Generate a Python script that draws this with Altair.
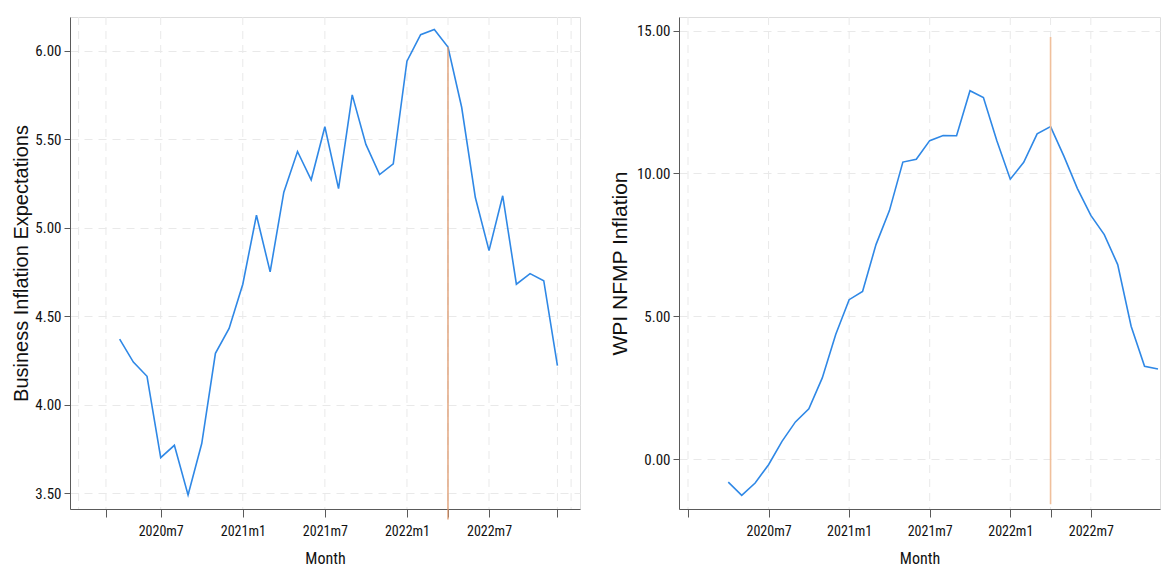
import altair as alt
import pandas as pd

# ---- data ----
months = ["2020m4", "2020m5", "2020m6", "2020m7", "2020m8", "2020m9", "2020m10", "2020m11", "2020m12",
          "2021m1", "2021m2", "2021m3", "2021m4", "2021m5", "2021m6", "2021m7", "2021m8", "2021m9",
          "2021m10", "2021m11", "2021m12", "2022m1", "2022m2", "2022m3", "2022m4", "2022m5", "2022m6",
          "2022m7", "2022m8", "2022m9", "2022m10", "2022m11", "2022m12"]
business_exp = [4.37, 4.24, 4.16, 3.70, 3.77, 3.49, 3.78, 4.29, 4.43,
                4.68, 5.07, 4.75, 5.20, 5.43, 5.27, 5.57, 5.22, 5.75,
                5.47, 5.30, 5.36, 5.94, 6.09, 6.12, 6.02, 5.68, 5.17,
                4.87, 5.18, 4.68, 4.74, 4.70, 4.22]
wpi_nfmp = [-0.81, -1.27, -0.84, -0.20, 0.62, 1.30, 1.76, 2.84, 4.36,
            5.58, 5.87, 7.51, 8.70, 10.40, 10.50, 11.15, 11.33, 11.32,
            12.90, 12.66, 11.15, 9.80, 10.39, 11.39, 11.64, 10.60, 9.47,
            8.53, 7.86, 6.81, 4.65, 3.25, 3.15]

labeled_months = ["2020m7", "2021m1", "2021m7", "2022m1", "2022m7"]
left_tick_months = ["2020m3", "2020m7", "2021m1", "2021m7", "2022m1", "2022m4", "2022m7", "2022m12"]
left_grid_months = ["2020m1", "2020m3", "2020m7", "2021m1", "2021m7", "2022m1", "2022m4", "2022m7",
                    "2022m12", "2023m1"]
right_tick_months = ["2020m1", "2020m7", "2021m1", "2021m7", "2022m1", "2022m4", "2022m7"]
right_grid_months = ["2020m1", "2020m7", "2021m1", "2021m7", "2022m1", "2022m4", "2022m7"]

left_yticks = [3.5, 4.0, 4.5, 5.0, 5.5, 6.0]
right_yticks = [0, 5, 10, 15]

vline_month = "2022m4"
left_vline = [3.35, 6.02]
right_vline = [-1.58, 14.78]


def midx(s):
    y, m = s.split("m")
    return (int(y) - 2020) * 12 + int(m) - 1


LINE_COLOR = "#2f88e6"
GRID_COLOR = "#e9e9e9"
AXIS_COLOR = "#5a5a5a"
NARROW = "Roboto Condensed, Liberation Sans, sans-serif"
REGULAR = "Liberation Sans, Arial, sans-serif"

label_idx = [midx(m) for m in labeled_months]
label_expr = ("indexof(%s, datum.value) >= 0 ? (floor(datum.value / 12) + 2020) + 'm' + "
              "(datum.value %% 12 + 1) : ''") % str(label_idx)


def panel(values, ytitle, ydomain, yticks, tick_months, grid_months, vrange, width, xdomain,
          vcolor, vwidth, tsize, tpad):
    df = pd.DataFrame({"t": [midx(m) for m in months], "v": values})
    gdf = pd.DataFrame({"t": [midx(m) for m in grid_months]})
    vdf = pd.DataFrame({"t": [midx(vline_month)], "lo": [vrange[0]], "hi": [vrange[1]]})

    xaxis = alt.Axis(values=[midx(m) for m in tick_months], labelExpr=label_expr, grid=False,
                     tickSize=8, tickColor=AXIS_COLOR, domainColor=AXIS_COLOR, labelPadding=7,
                     labelFont=NARROW, labelFontSize=14, labelColor="#111", titleFont=NARROW,
                     titleFontSize=16, titleColor="#111", titleFontWeight="normal", titlePadding=12,
                     labelFlush=False, labelOverlap=False)
    yaxis = alt.Axis(values=yticks, format=".2f", grid=True, gridColor=GRID_COLOR, gridDash=[8, 6],
                     tickSize=6, tickColor=AXIS_COLOR, domainColor=AXIS_COLOR, labelPadding=3,
                     labelFont=NARROW, labelFontSize=15, labelColor="#111", titleFont=REGULAR,
                     titleFontSize=tsize, titleColor="#111", titleFontWeight="normal", titlePadding=tpad,
                     labelFlush=False, labelOverlap=False)
    xs = alt.Scale(domain=xdomain, nice=False, zero=False)
    ys = alt.Scale(domain=ydomain, nice=False, zero=False)
    x_enc = alt.X("t:Q", scale=xs, axis=xaxis, title="Month")

    grid = alt.Chart(gdf).mark_rule(color=GRID_COLOR, strokeDash=[8, 6], strokeWidth=1).encode(x=x_enc)
    line = alt.Chart(df).mark_line(color=LINE_COLOR, strokeWidth=1.6).encode(
        x=x_enc, y=alt.Y("v:Q", scale=ys, axis=yaxis, title=ytitle))
    vline = alt.Chart(vdf).mark_rule(color=vcolor, strokeWidth=vwidth, clip=False).encode(
        x=x_enc, y=alt.Y("lo:Q", scale=ys, axis=yaxis, title=ytitle), y2="hi:Q")
    return alt.layer(grid, line, vline).properties(width=width, height=492)


left = panel(business_exp, "Business Inflation Expectations", [3.41, 6.19], left_yticks,
             left_tick_months, left_grid_months, left_vline, 510, [-0.63, 36.65],
             "#de9a6e", 1.3, 20, 3)
right = panel(wpi_nfmp, "WPI NFMP Inflation", [-1.75, 15.48], right_yticks,
              right_tick_months, right_grid_months, right_vline, 481, [-0.67, 35.15],
              "#f0c09c", 1.6, 21, 6)

chart = alt.hconcat(left, right, spacing=27).properties(
    padding={"left": 3, "top": 8, "right": 0, "bottom": 0}
).configure_view(stroke=None).configure(background="white")

chart.save("out.html", embed_options={"renderer": "svg", "actions": False})
